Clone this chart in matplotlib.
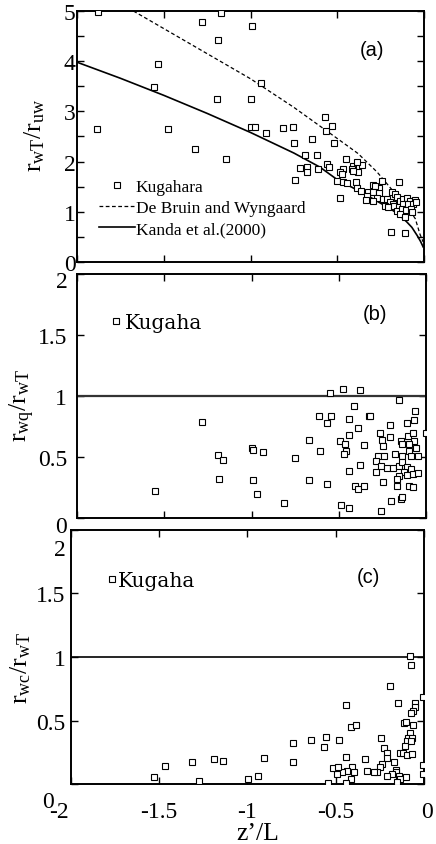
import matplotlib
matplotlib.use('Agg')
import matplotlib.pyplot as plt
import matplotlib.transforms as mtransforms
from matplotlib.ticker import MultipleLocator, FormatStrFormatter

plt.rcParams.update({
    'font.family': ['Liberation Serif', 'DejaVu Serif'],
    'mathtext.fontset': 'custom',
    'mathtext.rm': 'Liberation Serif',
    'mathtext.it': 'Liberation Serif:italic',
    'axes.unicode_minus': False,
    'axes.linewidth': 1.4,
})

##############################################################################
# data

# (a) r_wT / r_uw
a_x = [-1.877, -1.883, -1.535, -1.554, -1.474, -1.322, -1.281, -1.168, -1.187,
       -1.193, -1.141, -0.993, -0.995, -0.999, -0.972, -0.941, -0.911, -0.815,
       -0.755, -0.748, -0.744, -0.688, -0.715, -0.673, -0.673, -0.646, -0.619,
       -0.611, -0.571, -0.567, -0.532, -0.519, -0.559, -0.546, -0.483, -0.450,
       -0.359, -0.244, -0.144, -0.190, -0.110,
       -0.408, -0.417, -0.469, -0.383, -0.408, -0.484, -0.500, -0.469, -0.444,
       -0.392, -0.296, -0.259, -0.281, -0.385, -0.361, -0.325, -0.292, -0.258,
       -0.330, -0.269, -0.238, -0.332, -0.294, -0.215, -0.186, -0.167, -0.157,
       -0.196, -0.180, -0.225, -0.206, -0.171, -0.138, -0.146, -0.119, -0.096,
       -0.081, -0.052, -0.119, -0.090, -0.062, -0.154, -0.129, -0.104, -0.077,
       -0.046, -0.138, -0.110, -0.071, -0.474, -0.388]
a_y = [4.99, 2.65, 3.94, 3.49, 2.65, 2.25, 4.79, 4.97, 4.43,
       3.24, 2.05, 4.71, 3.25, 2.68, 2.68, 3.57, 2.56, 2.66,
       2.68, 2.38, 1.63, 2.13, 1.87, 1.89, 1.80, 2.44, 2.14,
       1.85, 2.88, 2.60, 2.70, 2.37, 1.95, 1.89, 1.28, 2.05,
       1.94, 1.62, 1.59, 0.60, 0.57,
       1.91, 1.85, 1.85, 1.79, 1.81, 1.79, 1.61, 1.59, 1.57,
       1.59, 1.54, 1.47, 1.52, 1.47, 1.42, 1.40, 1.39, 1.37,
       1.32, 1.28, 1.25, 1.24, 1.22, 1.25, 1.39, 1.35, 1.29,
       1.19, 1.16, 1.12, 1.09, 1.12, 1.22, 1.09, 1.25, 1.27,
       1.22, 1.24, 1.16, 1.16, 1.16, 1.02, 1.06, 1.04, 1.06,
       1.19, 0.96, 0.89, 0.99, 1.75, 2.00]

bruin_x = [-1.675, -1.5, -1.32, -1.0, -0.75, -0.5, -0.38, -0.27, -0.18,
           -0.10, -0.05, -0.023, -0.005]
bruin_y = [5.0, 4.65, 4.29, 3.65, 3.08, 2.46, 2.16, 1.79, 1.42,
           1.12, 0.86, 0.55, 0.40]

kanda_x = [-2.0, -1.75, -1.5, -1.25, -1.0, -0.75, -0.6, -0.5, -0.4, -0.3,
           -0.2, -0.15, -0.1, -0.07, -0.04, -0.02, -0.005]
kanda_y = [3.98, 3.66, 3.32, 2.96, 2.58, 2.17, 1.89, 1.64, 1.46, 1.27,
           1.07, 0.96, 0.80, 0.69, 0.53, 0.41, 0.30]

# (b) r_wq / r_wT
b_x = [-1.553, -1.282, -1.190, -1.165, -1.186, -0.998, -0.992, -0.937, -0.992,
       -0.971, -0.812, -0.753, -0.671, -0.671, -0.615, -0.607, -0.565, -0.542,
       -0.565, -0.553, -0.477, -0.381, -0.493, -0.466, -0.458, -0.469, -0.439,
       -0.412, -0.443, -0.391, -0.358, -0.328, -0.320, -0.439, -0.381, -0.485,
       -0.444, -0.408, -0.387, -0.355, -0.289, -0.259, -0.245,
       -0.157, -0.063, -0.207, -0.109, -0.067, 0.0, -0.264, -0.253, -0.245,
       -0.209, -0.144, -0.138, -0.105, -0.076, -0.067, -0.096, -0.057, -0.096,
       -0.278, -0.240, -0.178, -0.140, -0.086, -0.048, -0.286, -0.259, -0.224,
       -0.191, -0.153, -0.138, -0.109, -0.086, -0.128, -0.153, -0.109, -0.076,
       -0.044, -0.167, -0.169, -0.096, -0.075, -0.201, -0.144, -0.138]
b_y = [0.224, 0.79, 0.52, 0.475, 0.32, 0.576, 0.557, 0.538, 0.314,
       0.20, 0.12, 0.494, 0.642, 0.311, 0.833, 0.549, 0.78, 0.833,
       0.279, 1.022, 1.055, 1.049, 0.629, 0.607, 0.552, 0.522, 0.811,
       0.915, 0.683, 0.738, 0.601, 0.836, 0.839, 0.388, 0.432, 0.107,
       0.085, 0.265, 0.238, 0.262, 0.374, 0.06, 0.292,
       0.967, 0.88, 0.765, 0.776, 0.806, 0.694, 0.697, 0.639, 0.593,
       0.661, 0.628, 0.607, 0.67, 0.70, 0.628, 0.607, 0.571, 0.552,
       0.511, 0.511, 0.525, 0.511, 0.506, 0.506, 0.47, 0.429, 0.407,
       0.407, 0.429, 0.456, 0.415, 0.402, 0.38, 0.347, 0.352, 0.36,
       0.366, 0.32, 0.265, 0.265, 0.252, 0.142, 0.156, 0.17]

# (c) r_wc / r_wT
c_x = [-1.528, -1.470, -1.317, -1.277, -1.189, -1.140, -0.997, -0.939, -0.905,
       -0.740, -0.742, -0.642,
       -0.079, -0.074, -0.193, -0.004, -0.149, -0.051, -0.051, -0.064, -0.074,
       -0.440, -0.112, -0.102, -0.064, -0.415, -0.385, -0.079, -0.089, -0.068,
       -0.557, -0.565, -0.480, -0.242, -0.098, -0.074, -0.108, -0.225, -0.208,
       -0.136, -0.119, -0.098, -0.068, -0.440, -0.333, -0.211, -0.168, -0.236,
       -0.249, -0.265, -0.283, -0.410, -0.438, -0.463, -0.495, -0.517, -0.486,
       -0.395, -0.415, -0.442, -0.544, -0.321, -0.159, -0.160, -0.180, -0.211,
       -0.142, -0.136, -0.155, -0.102, -0.004, -0.004]
c_y = [0.053, 0.144, 0.171, 0.021, 0.197, 0.181, 0.039, 0.065, 0.202,
       0.32, 0.171, 0.344,
       1.01, 0.94, 0.774, 0.683, 0.635, 0.638, 0.604, 0.577, 0.559,
       0.622, 0.48, 0.486, 0.465, 0.446, 0.465, 0.402, 0.362, 0.36,
       0.368, 0.289, 0.346, 0.362, 0.341, 0.336, 0.302, 0.283, 0.244,
       0.244, 0.247, 0.231, 0.236, 0.215, 0.197, 0.205, 0.176, 0.157,
       0.131, 0.092, 0.092, 0.134, 0.105, 0.097, 0.079, 0.126, 0.131,
       0.092, 0.039, 0.008, 0.006, 0.105, 0.113, 0.092, 0.079, 0.065,
       0.065, 0.039, 0.013, 0.053, 0.15, 0.079]

xticks = [-2, -1.5, -1, -0.5, 0]
xticklabels = ['-2', '-1.5', '-1', '-0.5', '0']

##############################################################################
fontsize = 17
labelsize = 18.5
sq = dict(ls='none', marker='s', ms=4.3, mfc='white', mec='black', mew=0.8)


def style(ax, ymax, ystep, ypad):
    ax.set_xlim(-2, 0)
    ax.set_ylim(0, ymax)
    ax.set_xticks(xticks)
    ax.yaxis.set_major_locator(MultipleLocator(ystep))
    ax.yaxis.set_minor_locator(MultipleLocator(0.5))
    ax.yaxis.set_major_formatter(FormatStrFormatter('%g'))
    ax.tick_params(which='both', direction='in', top=True, right=True,
                   length=5, width=1.0, labelsize=fontsize)
    ax.tick_params(axis='y', pad=ypad)


def shift_label(fig, lab, dx, dy):
    off = mtransforms.ScaledTranslation(dx / 100.0, -dy / 100.0,
                                        fig.dpi_scale_trans)
    lab.set_transform(lab.get_transform() + off)


fig = plt.figure(figsize=(4.36, 8.45), dpi=100)
ax1 = fig.add_axes([0.1766, 0.6888, 0.7959, 0.2970])
ax2 = fig.add_axes([0.1766, 0.3858, 0.8005, 0.2888])
ax3 = fig.add_axes([0.1628, 0.0710, 0.8096, 0.3006])

# (a)
ax1.plot(a_x, a_y, label='Kugahara', zorder=3, **sq)
ax1.plot(bruin_x, bruin_y, 'k--', lw=0.9, dashes=(3, 2),
         label='De Bruin and Wyngaard', zorder=2)
ax1.plot(kanda_x, kanda_y, 'k-', lw=1.2, label='Kanda et al.(2000)', zorder=2)
style(ax1, 5, 1, 1)
ax1.set_xticklabels([])
ax1.set_ylabel(r'$\mathrm{r_{wT}/r_{uw}}$', fontsize=labelsize)
ax1.yaxis.set_label_coords(-0.086, 0.51)
ax1.text(0.85, 0.845, '(a)', transform=ax1.transAxes, fontsize=14.5,
         family='Liberation Sans', ha='center', va='center')
ax1.legend(loc='center left', bbox_to_anchor=(0.062, 0.215), frameon=False,
           fontsize=12.5, handlelength=2.1, handletextpad=0.05,
           labelspacing=0.3, borderpad=0, borderaxespad=0)

# (b)
ax2.plot(b_x, b_y, label='Kugaha', zorder=3, **sq)
ax2.axhline(1, color='#333333', lw=1.6, zorder=2)
style(ax2, 2, 0.5, 7)
ax2.set_xticklabels([])
ax2.set_ylabel(r'$\mathrm{r_{wq}/r_{wT}}$', fontsize=labelsize)
ax2.yaxis.set_label_coords(-0.115, 0.467)
ax2.text(0.854, 0.836, '(b)', transform=ax2.transAxes, fontsize=14.5,
         family='Liberation Sans', ha='center', va='center')
ax2.legend(loc='center left', bbox_to_anchor=(0.095, 0.80), frameon=False,
           prop={'family': 'DejaVu Serif', 'size': 14.5}, handlelength=0.6,
           handletextpad=0.15, borderpad=0, borderaxespad=0)

# (c)
ax3.plot(c_x, c_y, label='Kugaha', zorder=3, **sq)
ax3.axhline(1, color='black', lw=1.2, zorder=2)
style(ax3, 2, 0.5, 4)
ax3.set_xticklabels(xticklabels)
ax3.tick_params(axis='x', pad=12)
ax3.set_ylabel(r'$\mathrm{r_{wc}/r_{wT}}$', fontsize=labelsize)
ax3.yaxis.set_label_coords(-0.108, 0.46)
ax3.set_xlabel('z\u2019/L', fontsize=labelsize)
ax3.xaxis.set_label_coords(0.53, -0.148)
ax3.text(0.844, 0.815, '(c)', transform=ax3.transAxes, fontsize=14.5,
         family='Liberation Sans', ha='center', va='center')
ax3.legend(loc='center left', bbox_to_anchor=(0.10, 0.80), frameon=False,
           prop={'family': 'DejaVu Serif', 'size': 14.5}, handlelength=0.6,
           handletextpad=0.0, borderpad=0, borderaxespad=0)

# end labels sit off their ticks in the original
fig.canvas.draw()
for ax, offs in ((ax2, {0: (0, 6), 2: (0, 5)}),
                 (ax3, {0: (-12, 15), 2: (0, 17)})):
    for tick in ax.yaxis.get_major_ticks():
        v = round(tick.get_loc(), 2)
        if v in offs:
            shift_label(fig, tick.label1, *offs[v])
for tick in ax3.xaxis.get_major_ticks():
    if round(tick.get_loc(), 2) == -2:
        shift_label(fig, tick.label1, -12, 0)
    if round(tick.get_loc(), 2) == 0:
        shift_label(fig, tick.label1, 3, 0)

fig.savefig('out.png', dpi=100)
